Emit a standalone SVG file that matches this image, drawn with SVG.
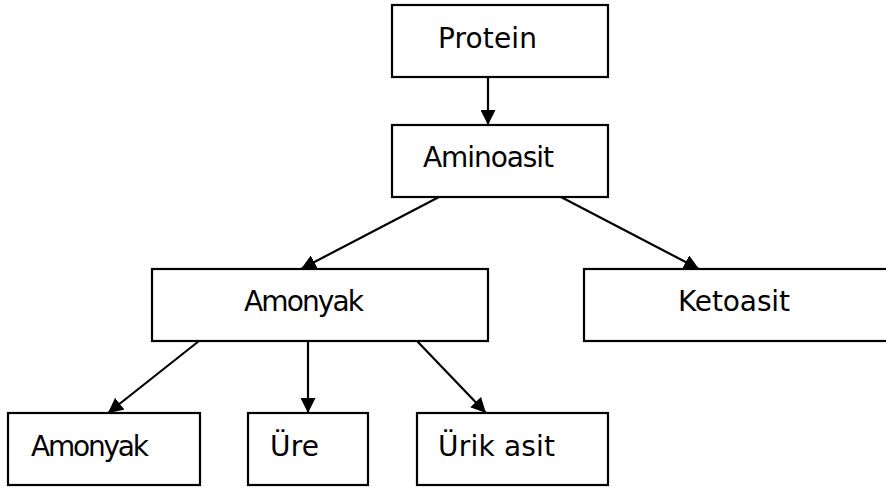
<svg xmlns="http://www.w3.org/2000/svg" width="886" height="488" viewBox="0 0 886 488">
<style>
.box{fill:#fff;stroke:#000;stroke-width:2.2}
.lbl{font-family:"DejaVu Sans","Liberation Sans",sans-serif;font-size:28px;fill:#000}
.edge{stroke:#000;stroke-width:2.2;fill:none;marker-end:url(#ah)}
</style>
<defs>
<marker id="ah" viewBox="0 0 15 15" refX="15" refY="7.5" markerWidth="15" markerHeight="15" markerUnits="userSpaceOnUse" orient="auto">
<path d="M0,0 L15,7.5 L0,15 Z" fill="#000"/>
</marker>
</defs>
<rect width="886" height="488" fill="#fff"/>
<g id="connectors">
<line class="edge" x1="488" y1="77" x2="488" y2="125"/>
<line class="edge" x1="439" y1="197" x2="301" y2="269"/>
<line class="edge" x1="561" y1="197" x2="699" y2="269"/>
<line class="edge" x1="199" y1="341" x2="108" y2="413"/>
<line class="edge" x1="308" y1="341" x2="308" y2="413"/>
<line class="edge" x1="417" y1="341" x2="486" y2="413"/>
</g>
<g id="protein">
<rect class="box" x="392" y="5" width="216" height="72"/>
<text class="lbl" x="438" y="48" textLength="99" lengthAdjust="spacing">Protein</text>
</g>
<g id="aminoasit">
<rect class="box" x="392" y="125" width="216" height="72"/>
<text class="lbl" x="423" y="167" textLength="131" lengthAdjust="spacing">Aminoasit</text>
</g>
<g id="amonyak1">
<rect class="box" x="152" y="269" width="336" height="72"/>
<text class="lbl" x="244" y="311" textLength="120" lengthAdjust="spacing">Amonyak</text>
</g>
<g id="ketoasit">
<rect class="box" x="584" y="269" width="305" height="72"/>
<text class="lbl" x="678" y="311" textLength="112" lengthAdjust="spacing">Ketoasit</text>
</g>
<g id="amonyak2">
<rect class="box" x="8" y="413" width="192" height="72"/>
<text class="lbl" x="31" y="456" textLength="118" lengthAdjust="spacing">Amonyak</text>
</g>
<g id="ure">
<rect class="box" x="248" y="413" width="120" height="72"/>
<text class="lbl" x="270" y="456" textLength="49" lengthAdjust="spacing">Üre</text>
</g>
<g id="urikasit">
<rect class="box" x="417" y="413" width="191" height="72"/>
<text class="lbl" x="438" y="456" textLength="117" lengthAdjust="spacing">Ürik asit</text>
</g>
</svg>
